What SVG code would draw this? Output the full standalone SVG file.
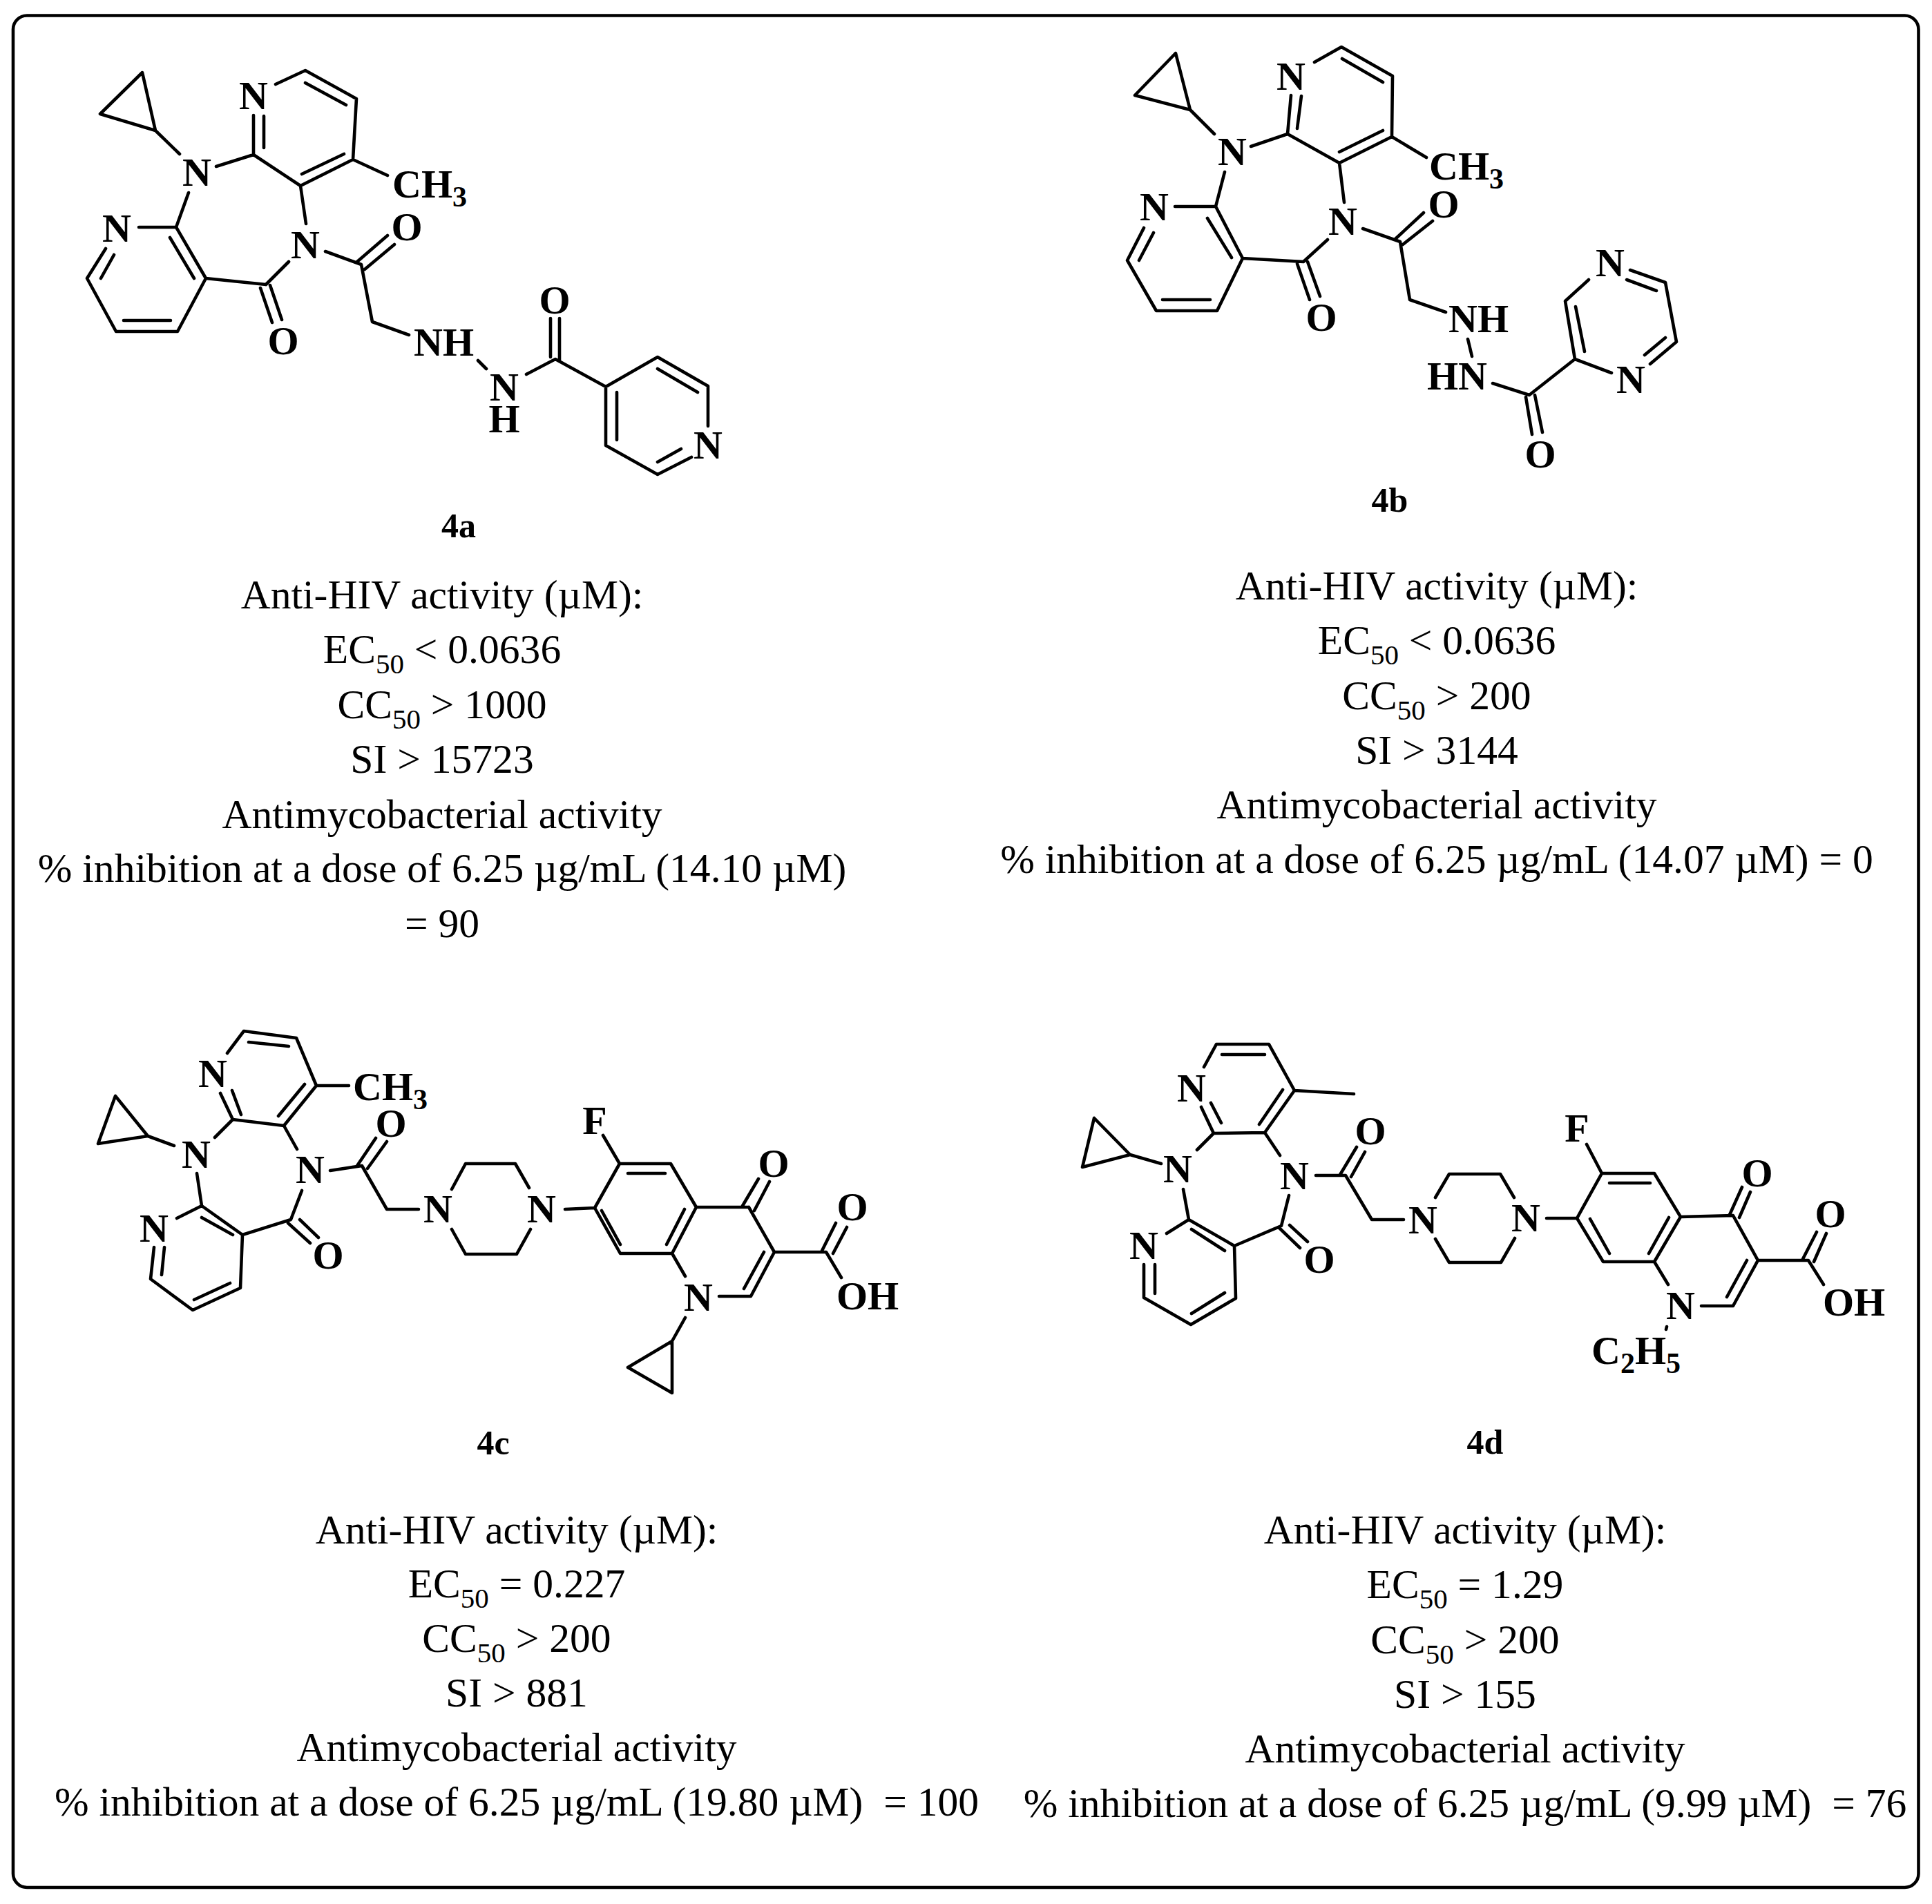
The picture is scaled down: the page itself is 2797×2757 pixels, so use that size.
<svg xmlns="http://www.w3.org/2000/svg" width="2797" height="2757" viewBox="0 0 2797 2757">
<style>
text{font-family:"Liberation Serif","Times New Roman",serif;fill:#000}
.t{font-size:59.6px;text-anchor:middle;white-space:pre}
.a{font-size:58px;font-weight:bold;text-anchor:middle}
.l{font-size:58px;font-weight:bold}
.c{font-size:50px;font-weight:bold;text-anchor:middle}
.b{fill:none;stroke:#000;stroke-width:4.6;stroke-linecap:round;stroke-linejoin:round}
.s{font-size:41px}
.ls{font-size:42px}
</style>
<rect width="2797" height="2757" fill="#fff"/>
<rect id="frame" x="19" y="22.5" width="2758.5" height="2710.5" rx="20" ry="20" fill="none" stroke="#000" stroke-width="4.6"/>

<g id="compound-4a">
<g id="bonds-4a"><path class="b" d="M206 105L145 165L225 189ZM225 189L260 223M313 241L367 224M367 224V167M382 214V168M399 122L442 102L516 143L511 231L435 269L367 224M442 120L501 152M498 223L437 252M511 231L561 254M435 269L443 324M418 379L385 412M273 279L255 329M201 329H255L298 403L257 480H168L126 403L153 360M246 344L281 403M247 464H179M146 403L165 369M298 403L385 412M377 417L394 467M391 413L408 463M471 364L523 383L539 466L592 485M517 379L561 341M528 390L571 354M692 522L704 534M762 542L804 520L877 560L952 517L1025 559V617M797 461V517M810 461V522M952 534L1010 568M877 560V645L952 687L1001 662M893 568V637M952 669L986 650"/></g>
<text class="a" x="285" y="269">N</text><text class="a" x="367" y="158">N</text><text class="a" x="442" y="374">N</text><text class="a" x="169" y="350">N</text>
<text class="l" x="568" y="286">CH<tspan class="ls" dy="13">3</tspan></text>
<text class="a" x="410" y="513">O</text><text class="a" x="589" y="348">O</text><text class="a" x="803" y="454">O</text>
<text class="l" x="599" y="515">NH</text><text class="a" x="730" y="580">N</text><text class="a" x="730" y="626">H</text><text class="a" x="1025" y="664">N</text>
<text class="c" x="664" y="778">4a</text>
<g id="data-4a"><text class="t" x="640" y="880.500">Anti-HIV activity (µM):</text>
<text class="t" x="640" y="960">EC<tspan class="s" dy="15">50</tspan><tspan dy="-15"> &lt; 0.0636</tspan></text>
<text class="t" x="640" y="1039.500">CC<tspan class="s" dy="15">50</tspan><tspan dy="-15"> &gt; 1000</tspan></text>
<text class="t" x="640" y="1118.500">SI &gt; 15723</text>
<text class="t" x="640" y="1198.500">Antimycobacterial activity</text>
<text class="t" x="640" y="1276.500">% inhibition at a dose of 6.25 µg/mL (14.10 µM)</text>
<text class="t" x="640" y="1356.500">= 90</text></g>
</g>

<g id="compound-4b">
<g id="bonds-4b"><path class="b" d="M1702 77L1643 138L1723 159ZM1723 159L1758 194M1811 212L1864 194L1869 138M1878 186L1884 139M1903 90L1942 68L2016 110L2015 198L1939 236L1864 194M1943 85L2002 119M2002 189L1939 220M2015 198L2065 228M1939 236L1946 293M1922 347L1887 379L1799 374M1773 249L1760 299H1701M1760 299L1799 374L1762 450H1674L1632 377L1656 330M1748 316L1783 373M1752 434H1683M1649 377L1670 337M1878 382L1896 434M1893 379L1911 429M1973 331L2027 350L2041 434L2093 452M2019 347L2061 308M2031 354L2074 320M2125 491L2131 516M2161 555L2214 572L2280 520L2333 540M2209 575L2218 629M2222 572L2233 626M2389 527L2427 495L2411 409L2360 391M2381 514L2411 489M2398 421L2355 405M2300 405L2266 436L2280 520M2281 444L2294 509"/></g>
<text class="a" x="1784" y="239">N</text><text class="a" x="1869" y="130">N</text><text class="a" x="1944" y="340">N</text><text class="a" x="1671" y="319">N</text>
<text class="l" x="2069" y="260">CH<tspan class="ls" dy="13">3</tspan></text>
<text class="a" x="1913" y="479">O</text><text class="a" x="2090" y="315">O</text><text class="a" x="2230" y="677">O</text>
<text class="l" x="2097" y="481">NH</text><text class="l" x="2066" y="564">HN</text>
<text class="a" x="2361" y="569">N</text><text class="a" x="2331" y="400">N</text>
<text class="c" x="2012" y="741">4b</text>
<g id="data-4b"><text class="t" x="2080" y="868">Anti-HIV activity (µM):</text>
<text class="t" x="2080" y="947">EC<tspan class="s" dy="15">50</tspan><tspan dy="-15"> &lt; 0.0636</tspan></text>
<text class="t" x="2080" y="1027">CC<tspan class="s" dy="15">50</tspan><tspan dy="-15"> &gt; 200</tspan></text>
<text class="t" x="2080" y="1106">SI &gt; 3144</text>
<text class="t" x="2080" y="1185">Antimycobacterial activity</text>
<text class="t" x="2080" y="1264">% inhibition at a dose of 6.25 µg/mL (14.07 µM) = 0</text></g>
</g>

<g id="compound-4c">
<g id="bonds-4c"><path class="b" d="M167 1587L142 1656L214 1645ZM214 1645L252 1659M311 1647L337 1621L319 1583M336 1579L349 1614M329 1525L353 1493L429 1503L458 1572L411 1630L337 1621M360 1509L418 1515M441 1570L403 1616M458 1572H505M411 1630L430 1664M478 1695L524 1688L560 1751H606M517 1688L544 1648M532 1692L560 1653M654 1722L674 1685H746L766 1720M654 1780L674 1816H748L768 1780M818 1751L861 1749L897 1685L971 1685L1008 1748L973 1815H898L861 1749M909 1699H963M991 1751L965 1802M898 1802L871 1753M897 1685L873 1644M1008 1748H1083M1075 1746L1098 1707M1092 1753L1114 1711M1084 1748L1121 1813L1087 1877H1041M1106 1813L1077 1866M973 1815L992 1848M1121 1813H1196L1218 1850M1190 1811L1210 1771M1206 1815L1226 1777M992 1908L973 1942V2017L909 1980L973 1942M285 1699L292 1746L351 1788L348 1865L279 1897L218 1852L223 1806M292 1746L256 1764M292 1763L337 1788M238 1806L234 1846M281 1882L333 1858M351 1788L421 1766L437 1724M417 1771L449 1800M434 1766L461 1792"/></g>
<text class="a" x="284" y="1691">N</text><text class="a" x="308" y="1574">N</text><text class="a" x="449" y="1713">N</text><text class="a" x="223" y="1798">N</text>
<text class="a" x="634" y="1770">N</text><text class="a" x="784" y="1770">N</text><text class="a" x="1011" y="1898">N</text>
<text class="l" x="511" y="1593">CH<tspan class="ls" dy="13">3</tspan></text>
<text class="a" x="566" y="1646">O</text><text class="a" x="475" y="1837">O</text><text class="a" x="1120" y="1704">O</text><text class="a" x="1234" y="1767">O</text>
<text class="a" x="861" y="1642">F</text><text class="l" x="1211" y="1896">OH</text>
<text class="c" x="714" y="2106">4c</text>
<g id="data-4c"><text class="t" x="748" y="2234.500">Anti-HIV activity (µM):</text>
<text class="t" x="748" y="2312.500">EC<tspan class="s" dy="15">50</tspan><tspan dy="-15"> = 0.227</tspan></text>
<text class="t" x="748" y="2391.500">CC<tspan class="s" dy="15">50</tspan><tspan dy="-15"> &gt; 200</tspan></text>
<text class="t" x="748" y="2470.500">SI &gt; 881</text>
<text class="t" x="748" y="2549.500">Antimycobacterial activity</text>
<text class="t" x="748" y="2628.500">% inhibition at a dose of 6.25 µg/mL (19.80 µM)  = 100</text></g>
</g>

<g id="compound-4d">
<g id="bonds-4d"><path class="b" d="M1584 1619L1567 1690L1636 1672ZM1636 1672L1681 1685M1733 1665L1757 1641L1739 1603M1768 1626L1753 1597M1743 1545L1761 1512H1837L1874 1579L1831 1640L1757 1641M1769 1527H1831M1857 1578L1823 1628M1874 1579L1960 1584M1831 1640L1853 1673M1905 1702H1948L1986 1766H2032M1940 1701L1964 1661M1956 1704L1976 1668M2078 1734L2098 1700H2172L2192 1734M2078 1794L2098 1828H2173L2193 1793M2239 1764H2283L2319 1699H2395L2433 1762L2395 1827H2321L2283 1764M2330 1713H2389M2416 1763L2387 1815M2330 1815L2302 1765M2319 1699L2297 1657M2433 1762L2509 1760L2545 1825L2509 1891H2463M2504 1759L2522 1719M2518 1763L2534 1726M2529 1825L2500 1878M2395 1827L2415 1860M2545 1825H2618L2640 1860M2610 1823L2630 1784M2626 1827L2644 1786M2413 1921L2412 1925M1713 1722L1721 1766L1787 1804L1789 1880L1724 1918L1656 1879V1831M1721 1766L1689 1786M1725 1780L1773 1811M1672 1831V1873M1725 1902L1773 1872M1787 1804L1855 1775L1866 1731M1851 1777L1882 1807M1867 1774L1893 1798"/></g>
<text class="a" x="1705" y="1712">N</text><text class="a" x="1725" y="1595">N</text><text class="a" x="1874" y="1722">N</text><text class="a" x="1656" y="1823">N</text>
<text class="a" x="2060" y="1786">N</text><text class="a" x="2209" y="1783">N</text><text class="a" x="2433" y="1910">N</text>
<text class="a" x="1984" y="1657">O</text><text class="a" x="1910" y="1843">O</text><text class="a" x="2544" y="1718">O</text><text class="a" x="2650" y="1777">O</text>
<text class="a" x="2283" y="1653">F</text><text class="l" x="2639" y="1905">OH</text>
<text class="l" x="2304" y="1975">C<tspan class="ls" dy="13">2</tspan><tspan dy="-13">H</tspan><tspan class="ls" dy="13">5</tspan></text>
<text class="c" x="2150" y="2105">4d</text>
<g id="data-4d"><text class="t" x="2121" y="2234.500">Anti-HIV activity (µM):</text>
<text class="t" x="2121" y="2313.500">EC<tspan class="s" dy="15">50</tspan><tspan dy="-15"> = 1.29</tspan></text>
<text class="t" x="2121" y="2393.500">CC<tspan class="s" dy="15">50</tspan><tspan dy="-15"> &gt; 200</tspan></text>
<text class="t" x="2121" y="2472.500">SI &gt; 155</text>
<text class="t" x="2121" y="2551.500">Antimycobacterial activity</text>
<text class="t" x="2121" y="2630.500">% inhibition at a dose of 6.25 µg/mL (9.99 µM)  = 76</text></g>
</g>
</svg>
